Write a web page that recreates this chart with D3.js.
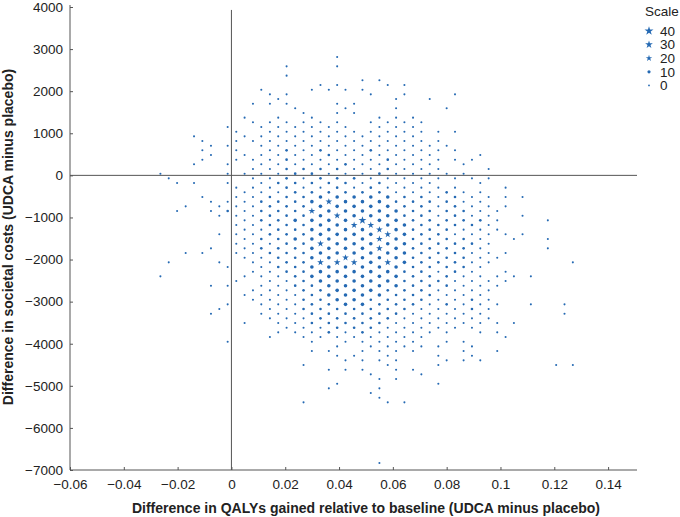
<!DOCTYPE html>
<html>
<head>
<meta charset="utf-8">
<script src="https://cdn.jsdelivr.net/npm/d3@7"></script>
<style>
  body { margin: 0; background: #fff; }
  svg { display: block; }
  text { font-family: "Liberation Sans", Arial, Helvetica, sans-serif; fill: #222; }
</style>
</head>
<body>
<svg id="chart" width="680" height="517"></svg>
<script>
// ---------------- data ----------------
const xTicks = [-0.06, -0.04, -0.02, 0, 0.02, 0.04, 0.06, 0.08, 0.1, 0.12, 0.14];
const xTickLabels = ["\u22120.06", "\u22120.04", "\u22120.02", "0", "0.02", "0.04", "0.06", "0.08", "0.1", "0.12", "0.14"];
const yTicks = [4000, 3000, 2000, 1000, 0, -1000, -2000, -3000, -4000, -5000, -6000, -7000];
const yTickLabels = ["4000", "3000", "2000", "1000", "0", "\u22121000", "\u22122000", "\u22123000", "\u22124000", "\u22125000", "\u22126000", "\u22127000"];
const legendCounts = [40, 30, 20, 10, 0];
const legendLabels = ["40", "30", "20", "10", "0"];

// QALY bin centres: lattice columns used by "even" rows and by "odd" rows (checkerboard grid)
const qalyEven = [-0.0327, -0.0264, -0.0202, -0.0139, -0.0076, -0.0014, 0.0049, 0.0111, 0.0174, 0.0237,
  0.0299, 0.0362, 0.0424, 0.0487, 0.0550, 0.0612, 0.0675, 0.0737, 0.0800, 0.0863,
  0.0925, 0.0988, 0.1050, 0.1113, 0.1176, 0.1238, 0.1301];
const qalyOdd = [-0.0295, -0.0233, -0.0170, -0.0108, -0.0045, 0.0018, 0.0080, 0.0143, 0.0205, 0.0268,
  0.0331, 0.0393, 0.0456, 0.0518, 0.0581, 0.0643, 0.0706, 0.0769, 0.0831, 0.0894,
  0.0956, 0.1019, 0.1082, 0.1144, 0.1207, 0.1269];

// cost bin centres, one per row (rows alternate odd / even column lattice, starting with odd)
const costBins = [2812, 2701, 2590, 2480, 2369, 2258, 2147, 2036, 1925, 1814,
  1703, 1593, 1482, 1371, 1260, 1149, 1038, 927, 816, 705,
  595, 484, 373, 262, 151, 40, -71, -182, -292, -403,
  -514, -625, -736, -847, -958, -1069, -1180, -1290, -1401, -1512,
  -1623, -1734, -1845, -1956, -2067, -2178, -2288, -2399, -2510, -2621,
  -2732, -2843, -2954, -3065, -3175, -3286, -3397, -3508, -3619, -3730,
  -3840, -3952, -4063, -4173, -4284, -4395, -4506, -4617, -4728, -4839,
  -4950, -5060, -5171, -5282, -5393, -6834];

// size class of each cell in each row ('.' = no simulation in that bin)
const countRows = [
  "..... ..... .1... ..... ..... .",
  "..... ..... ..... ..... ..... ..",
  "..... ...1. .1... ..... ..... .",
  "..... ..... ..... ..... ..... ..",
  "..... ...1. ..... ..... ..... .",
  "..... ..... ...11 ..... ..... ..",
  "..... ..... 11..1 1.... ..... .",
  "..... ..1.. 1111. ..... ..... ..",
  "..... ..11. ...1. 1..1. ..... .",
  "..... ...1. ..... 1.1.. ..... ..",
  "..... .111. .11.. ..... ..... .",
  "..... ....1 ..1.. 1..1. ..... ..",
  "..... ....1 .11.. ..... ..... .",
  "..... .1.1. 1...1 11... ..... ..",
  "..... .1111 11.11 11... ..... .",
  "..... 1.111 111.1 11... ..... ..",
  "..... 1.111 11111 1111. ..... .",
  "...1. .1111 11111 11... ..... ..",
  "...1. 11111 11111 111.. ..... .",
  "....1 1.111 11111 1111. ..... ..",
  "...1. 1.121 21121 1111. ..... .",
  "....1 .1111 12111 111.. 1.... ..",
  "...1. 11121 11112 11111 ..... .",
  "...1. 1.111 11211 111.1 ..... ..",
  "..... .1122 22112 111.. 1.... .",
  ".1... 11112 21112 11111 ..... ..",
  ".1... .1121 22211 11111 1.... .",
  "..11. 1.122 22212 111.. 1.... ..",
  "..... 11121 12121 1111. .1... .",
  "..... .1112 22222 11121 1.... ..",
  "...1. 11222 33333 22121 111.. .",
  "....1 11222 34333 22221 1.... ..",
  "..1.1 11222 33333 22121 11... .",
  "..1.1 21222 43333 32222 11... ..",
  "....1 11222 34333 22121 1.1.. .",
  "..... .1223 33353 32222 21..1 ..",
  "..... 11222 33443 32222 1.... .",
  "..... .1122 33334 32221 11... ..",
  "....1 11222 33334 32211 111.. .",
  "..... .1223 33334 32222 1.1.1 ..",
  "..... 11122 43333 32222 1.... .",
  "....1 .1222 33334 32222 1...1 ..",
  "..11. 11222 33333 32221 11... .",
  "..... .1122 33433 32222 11... ..",
  ".1..1 .1122 44434 32221 1.... 1",
  "..... 1.122 33333 32222 1.... ..",
  "..... .1122 33333 22121 .1... .",
  ".1... .1112 33333 32221 1111. ..",
  "..... 1.112 33333 22211 11... .",
  "....1 1.112 23333 32221 11... ..",
  "..... .1112 23332 22111 1.... .",
  "..... .1111 23333 22211 1.... ..",
  "..... .1112 23322 22112 1.... .",
  "..... 1.111 22332 22121 11.1. 1.",
  "....1 ..112 22222 21112 1.... .",
  "....1 ..111 22222 21111 1.... 1.",
  "..... ..111 22222 11111 1.... .",
  "..... .1.11 22222 11111 111.. ..",
  "..... ...11 12221 11111 ..... .",
  "..... ...11 12121 1111. 11... ..",
  "..... ..1.1 11111 11... .1... .",
  "..... 1.... 1.111 11.11 ..... ..",
  "..... ..... .1.11 111.1 ..... .",
  "..... ..... 11.11 11..1 .1... ..",
  "..... ..... .11.1 ..1.1 ..... .",
  "..... ..... ..111 1..11 1.... ..",
  "..... ....1 ....1 ..1.. ....1 1",
  "..... ..... .111. 11... ..... ..",
  "..... ..... ...1. .1... ..... .",
  "..... ..... ....1 1.... ..... ..",
  "..... ..... .1... ..1.. ..... .",
  "..... ..... .1..1 ..... ..... ..",
  "..... ..... ...1. ..... ..... .",
  "..... ..... ....1 ..... ..... ..",
  "..... ....1 ....1 1.... ..... .",
  "..... ..... ....1 ..... ..... .."
];
// approximate number of simulations represented by each size class
const classCounts = [0, 2, 6, 13, 22, 32];

// ---------------- build points ----------------
const points = [];
countRows.forEach((row, r) => {
  const cells = row.replace(/ /g, "");
  const cols = (r % 2 === 0) ? qalyOdd : qalyEven;
  for (let i = 0; i < cells.length; i++) {
    const c = cells[i];
    if (c === ".") continue;
    points.push({ qaly: cols[i], cost: costBins[r], count: classCounts[+c] });
  }
});

// ---------------- chart ----------------
const svg = d3.select("#chart");
const color = "#2469b3";
const axisColor = "#555";
const FONT = "'Liberation Sans', Arial, Helvetica, sans-serif";

const x = d3.scaleLinear().domain([-0.06, 0.15]).range([70, 635]);
const y = d3.scaleLinear().domain([-7000, 4000]).range([470, 7]);
// marker outer radius by count (small counts render as dots, larger as stars)
const radius = d3.scaleLinear().domain([0, 13, 20, 40]).range([0.9, 1.8, 3.4, 4.7]);
const starThreshold = 16;
function markerPath(count) {
  const r = radius(count);
  if (count < starThreshold) {
    return d3.symbol().type(d3.symbolCircle).size(Math.PI * r * r)();
  }
  return d3.symbol().type(d3.symbolStar).size(r * r / 0.8908130915292852)();
}

// zero reference lines
svg.append("line")
  .attr("x1", x(-0.06)).attr("x2", 637)
  .attr("y1", y(0)).attr("y2", y(0))
  .attr("stroke", axisColor).attr("stroke-width", 1);
svg.append("line")
  .attr("x1", x(0)).attr("x2", x(0))
  .attr("y1", y(3930)).attr("y2", y(-7000))
  .attr("stroke", axisColor).attr("stroke-width", 1);

// points
svg.append("g").selectAll("path")
  .data(points)
  .join("path")
  .attr("transform", d => `translate(${x(d.qaly)},${y(d.cost)})`)
  .attr("d", d => markerPath(d.count))
  .attr("fill", color);

// x axis
const xAxis = svg.append("g").attr("transform", `translate(0,${y(-7000)})`)
  .call(d3.axisBottom(x).tickValues(xTicks).tickSizeInner(-3).tickSizeOuter(0)
    .tickFormat((d, i) => xTickLabels[i]));
xAxis.select(".domain").attr("d", `M${x(-0.06)},0H637`).attr("stroke", axisColor);
xAxis.selectAll(".tick line").attr("stroke", axisColor);
xAxis.selectAll(".tick text").attr("y", 9).attr("dy", "0.71em")
  .style("font-size", "13.5px").style("font-family", FONT).attr("fill", "#222");

// y axis
const yAxis = svg.append("g").attr("transform", `translate(${x(-0.06)},0)`)
  .call(d3.axisLeft(y).tickValues(yTicks).tickSizeInner(-3).tickSizeOuter(0)
    .tickFormat((d, i) => yTickLabels[i]));
yAxis.select(".domain").attr("d", `M0,${y(4000) - 2}V${y(-7000)}`).attr("stroke", axisColor);
yAxis.selectAll(".tick line").attr("stroke", axisColor);
yAxis.selectAll(".tick text").attr("x", -7)
  .style("font-size", "13.5px").style("font-family", FONT).attr("fill", "#222");

// axis titles
svg.append("text")
  .attr("x", 366).attr("y", 513)
  .attr("text-anchor", "middle")
  .style("font-size", "14px").style("font-weight", "bold")
  .text("Difference in QALYs gained relative to baseline (UDCA minus placebo)");
svg.append("text")
  .attr("transform", "translate(12.5,237) rotate(-90)")
  .attr("text-anchor", "middle")
  .style("font-size", "14px").style("font-weight", "bold")
  .text("Difference in societal costs (UDCA minus placebo)");

// legend
const lg = svg.append("g");
lg.append("text").attr("x", 645).attr("y", 16).style("font-size", "13.5px").text("Scale");
legendCounts.forEach((c, i) => {
  const cy = 31 + i * 13.6;
  lg.append("path")
    .attr("transform", `translate(649,${cy})`)
    .attr("d", markerPath(c))
    .attr("fill", color);
  lg.append("text").attr("x", 660).attr("y", cy).attr("dy", "0.35em")
    .style("font-size", "13.5px").text(legendLabels[i]);
});
</script>
</body>
</html>
